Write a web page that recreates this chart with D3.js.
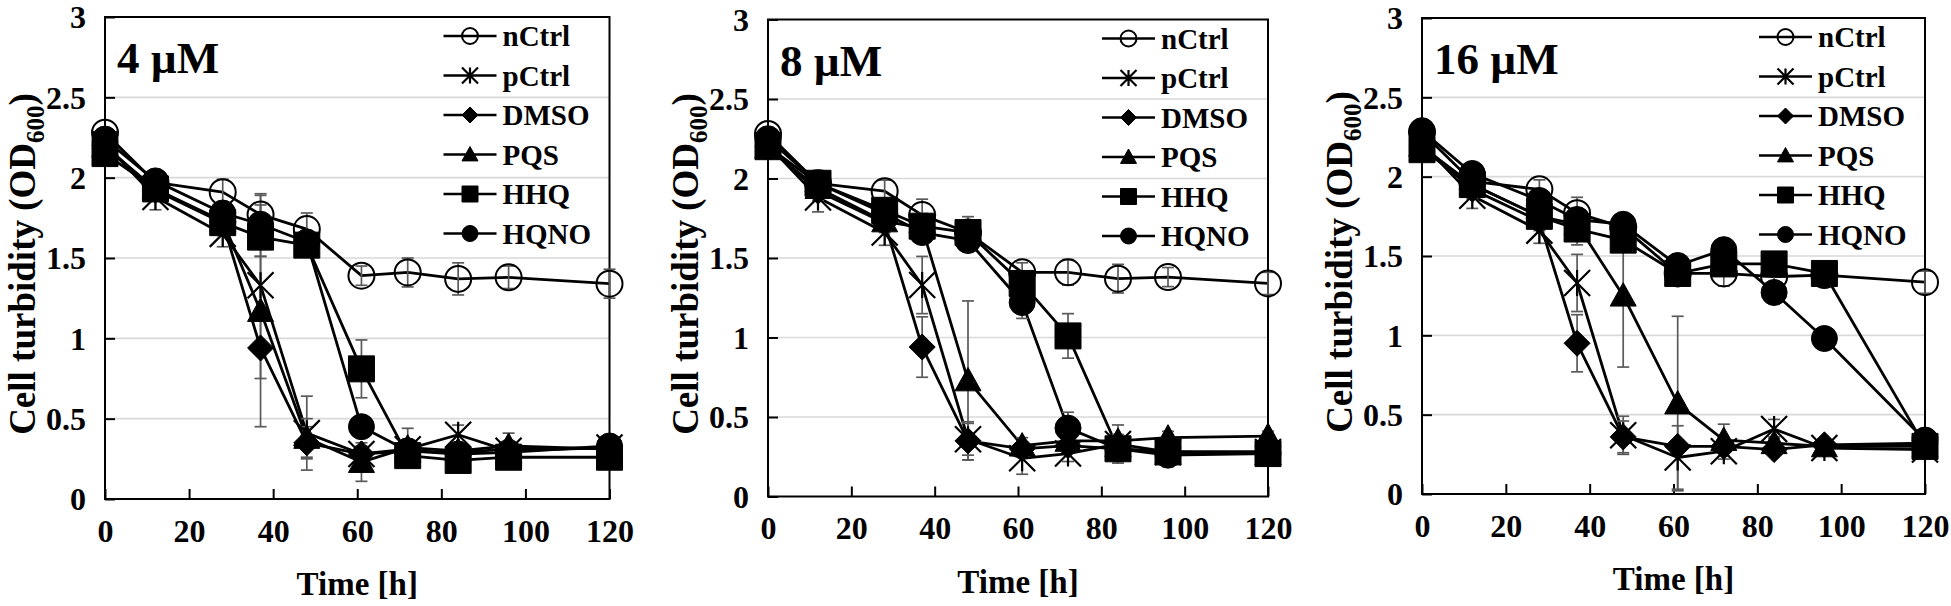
<!DOCTYPE html>
<html><head><meta charset="utf-8">
<script src="https://cdn.jsdelivr.net/npm/d3@7/dist/d3.min.js"></script>
<style>
html,body{margin:0;padding:0;background:#fff;}
svg{display:block;font-family:"Liberation Serif","Times New Roman",serif;font-weight:bold;}
text{font-family:"Liberation Serif","Times New Roman",serif;font-weight:bold;}
</style></head>
<body>
<svg id="chart" width="1951" height="606"></svg>
<script>
// ---- data ----
const times = [0, 12, 28, 37, 48, 61, 72, 84, 96, 120];
const seriesNames = ["nCtrl", "pCtrl", "DMSO", "PQS", "HHQ", "HQNO"];
const panelLabels = ["4 µM", "8 µM", "16 µM"];
const xTicks = [0, 20, 40, 60, 80, 100, 120];
const yTicks = [0, 0.5, 1, 1.5, 2, 2.5, 3];
const yTickLabels = ["0", "0.5", "1", "1.5", "2", "2.5", "3"];

// 4 µM
const c4_nCtrl = [2.28, 1.97, 1.91, 1.77, 1.68, 1.39, 1.41, 1.37, 1.38, 1.34];
const c4_pCtrl = [2.21, 1.88, 1.65, 1.33, 0.41, 0.28, 0.31, 0.40, 0.30, 0.32];
const c4_DMSO  = [2.20, 1.92, 1.72, 0.94, 0.35, 0.28, 0.30, 0.29, 0.31, 0.32];
const c4_PQS   = [2.19, 1.93, 1.73, 1.17, 0.38, 0.23, 0.32, 0.30, 0.33, 0.31];
const c4_HHQ   = [2.15, 1.93, 1.72, 1.63, 1.58, 0.81, 0.27, 0.24, 0.26, 0.26];
const c4_HQNO  = [2.24, 1.98, 1.78, 1.71, 1.60, 0.45, 0.30, 0.28, 0.29, 0.33];
const e4_nCtrl = [0.03, 0.05, 0.08, 0.13, 0.10, 0.06, 0.09, 0.10, 0.07, 0.09];
const e4_pCtrl = [0.03, 0.08, 0.08, 0.18, 0.23, 0.05, 0.05, 0.06, 0.04, 0.03];
const e4_DMSO  = [0.03, 0.06, 0.06, 0.19, 0.10, 0.04, 0.04, 0.03, 0.03, 0.03];
const e4_PQS   = [0.03, 0.05, 0.06, 0.72, 0.12, 0.12, 0.12, 0.04, 0.08, 0.03];
const e4_HHQ   = [0.03, 0.05, 0.08, 0.12, 0.05, 0.18, 0.03, 0.03, 0.03, 0.03];
const e4_HQNO  = [0.03, 0.04, 0.05, 0.12, 0.05, 0.05, 0.05, 0.03, 0.03, 0.03];

// 8 µM
const c8_nCtrl = [2.28, 1.97, 1.92, 1.77, 1.66, 1.41, 1.41, 1.37, 1.38, 1.34];
const c8_pCtrl = [2.21, 1.88, 1.66, 1.33, 0.36, 0.24, 0.27, 0.33, 0.28, 0.28];
const c8_DMSO  = [2.20, 1.92, 1.72, 0.94, 0.35, 0.30, 0.32, 0.30, 0.28, 0.28];
const c8_PQS   = [2.19, 1.94, 1.73, 1.69, 0.73, 0.32, 0.35, 0.35, 0.37, 0.38];
const c8_HHQ   = [2.20, 1.97, 1.80, 1.70, 1.66, 1.34, 1.01, 0.30, 0.28, 0.27];
const c8_HQNO  = [2.25, 1.97, 1.78, 1.66, 1.61, 1.22, 0.43, 0.30, 0.26, 0.27];
const e8_nCtrl = [0.03, 0.05, 0.07, 0.10, 0.10, 0.06, 0.08, 0.09, 0.06, 0.07];
const e8_pCtrl = [0.03, 0.09, 0.08, 0.18, 0.10, 0.10, 0.05, 0.12, 0.04, 0.03];
const e8_DMSO  = [0.03, 0.06, 0.06, 0.19, 0.12, 0.04, 0.04, 0.03, 0.03, 0.03];
const e8_PQS   = [0.03, 0.05, 0.06, 0.08, 0.50, 0.05, 0.05, 0.04, 0.04, 0.03];
const e8_HHQ   = [0.03, 0.08, 0.06, 0.08, 0.08, 0.06, 0.14, 0.03, 0.03, 0.03];
const e8_HQNO  = [0.03, 0.04, 0.05, 0.06, 0.05, 0.10, 0.10, 0.03, 0.03, 0.03];

// 16 µM
const c16_nCtrl = [2.28, 1.97, 1.92, 1.77, 1.68, 1.39, 1.39, 1.37, 1.38, 1.335];
const c16_pCtrl = [2.21, 1.88, 1.66, 1.33, 0.37, 0.23, 0.27, 0.41, 0.29, 0.28];
const c16_DMSO  = [2.20, 1.92, 1.72, 0.95, 0.36, 0.30, 0.30, 0.28, 0.31, 0.32];
const c16_PQS   = [2.19, 1.95, 1.75, 1.70, 1.25, 0.57, 0.34, 0.32, 0.30, 0.30];
const c16_HHQ   = [2.17, 1.95, 1.75, 1.67, 1.60, 1.39, 1.45, 1.45, 1.39, 0.30];
const c16_HQNO  = [2.29, 2.02, 1.85, 1.73, 1.70, 1.44, 1.54, 1.27, 0.98, 0.34];
const e16_nCtrl = [0.03, 0.05, 0.06, 0.10, 0.08, 0.06, 0.08, 0.09, 0.06, 0.07];
const e16_pCtrl = [0.03, 0.08, 0.08, 0.18, 0.12, 0.20, 0.05, 0.06, 0.04, 0.03];
const e16_DMSO  = [0.03, 0.06, 0.06, 0.18, 0.10, 0.04, 0.04, 0.03, 0.03, 0.03];
const e16_PQS   = [0.03, 0.05, 0.06, 0.10, 0.45, 0.55, 0.10, 0.04, 0.04, 0.03];
const e16_HHQ   = [0.03, 0.05, 0.08, 0.10, 0.05, 0.04, 0.05, 0.04, 0.06, 0.03];
const e16_HQNO  = [0.03, 0.04, 0.05, 0.06, 0.05, 0.05, 0.06, 0.05, 0.06, 0.03];

const panelValues = [
  [c4_nCtrl, c4_pCtrl, c4_DMSO, c4_PQS, c4_HHQ, c4_HQNO],
  [c8_nCtrl, c8_pCtrl, c8_DMSO, c8_PQS, c8_HHQ, c8_HQNO],
  [c16_nCtrl, c16_pCtrl, c16_DMSO, c16_PQS, c16_HHQ, c16_HQNO]
];
const panelErrors = [
  [e4_nCtrl, e4_pCtrl, e4_DMSO, e4_PQS, e4_HHQ, e4_HQNO],
  [e8_nCtrl, e8_pCtrl, e8_DMSO, e8_PQS, e8_HHQ, e8_HQNO],
  [e16_nCtrl, e16_pCtrl, e16_DMSO, e16_PQS, e16_HHQ, e16_HQNO]
];

// ---- layout ----
const panels = [
  {left: 105, right: 609.5, top: 17, bottom: 499},
  {left: 768, right: 1268, top: 19.5, bottom: 496.5},
  {left: 1422, right: 1925, top: 18, bottom: 494}
];
const markerShapes = ["openCircle", "star", "diamond", "triangle", "square", "circle"];
const FONT = '"Liberation Serif","Times New Roman",serif';

function markerPath(shape, s) {
  const h = s / 2;
  switch (shape) {
    case "square": return `M${-h},${-h}H${h}V${h}H${-h}Z`;
    case "diamond": return `M0,${-h}L${h},0L0,${h}L${-h},0Z`;
    case "triangle": return `M0,${-h}L${h},${h*0.8}L${-h},${h*0.8}Z`;
    case "star": return `M${-h},${-h}L${h},${h}M${-h},${h}L${h},${-h}M0,${-h}V${h}`;
    default: { const p = d3.path(); p.arc(0, 0, h, 0, 2*Math.PI); p.closePath(); return p.toString(); }
  }
}
function drawMarker(g, shape, x, y, s) {
  const fillNone = shape === "openCircle" || shape === "star";
  g.append("path")
    .attr("d", markerPath(shape, s))
    .attr("transform", `translate(${x},${y})`)
    .attr("fill", fillNone ? "none" : "#000")
    .attr("stroke", "#000")
    .attr("stroke-width", shape === "star" ? 2.2 : (shape === "openCircle" ? 2 : 1));
}

const svg = d3.select("#chart");

panels.forEach((P, pi) => {
  const x = d3.scaleLinear().domain([0, 120]).range([P.left, P.right]);
  const y = d3.scaleLinear().domain([0, 3]).range([P.bottom, P.top]);
  const g = svg.append("g");

  // gridlines
  g.append("g").selectAll("line").data(yTicks.filter(v => v > 0 && v < 3)).join("line")
    .attr("x1", P.left).attr("x2", P.right)
    .attr("y1", d => y(d)).attr("y2", d => y(d))
    .attr("stroke", "#d9d9d9").attr("stroke-width", 1.6);

  // axes via d3 axis (inward ticks)
  const yAxis = d3.axisLeft(y).tickValues(yTicks).tickSize(-10).tickPadding(19)
    .tickFormat((d, i) => yTickLabels[i]);
  const ya = g.append("g").attr("transform", `translate(${P.left},0)`).call(yAxis);
  const xAxis = d3.axisBottom(x).tickValues(xTicks).tickSize(-10).tickPadding(20);
  const xa = g.append("g").attr("transform", `translate(0,${P.bottom})`).call(xAxis);
  [ya, xa].forEach(a => {
    a.attr("font-family", FONT);
    a.select(".domain").remove();
    a.selectAll(".tick line").attr("stroke", "#000").attr("stroke-width", 2);
    a.selectAll(".tick text").attr("fill", "#000")
      .style("font-family", FONT)
      .style("font-weight", "bold").style("font-size", "32px");
  });
  ya.selectAll(".tick text").attr("dy", "0.34em");
  xa.selectAll(".tick text").attr("dy", "0.71em");

  // plot box
  g.append("rect").attr("x", P.left).attr("y", P.top)
    .attr("width", P.right - P.left).attr("height", P.bottom - P.top)
    .attr("fill", "none").attr("stroke", "#000").attr("stroke-width", 2);

  const vals = panelValues[pi], errs = panelErrors[pi];

  // series lines
  const line = d3.line().x((d, i) => x(times[i])).y(d => y(d));
  vals.forEach(v => {
    g.append("path").attr("d", line(v)).attr("fill", "none")
      .attr("stroke", "#000").attr("stroke-width", 2.8).attr("stroke-linejoin", "round");
  });

  // error bars
  vals.forEach((v, si) => {
    const eg = g.append("g");
    v.forEach((val, i) => {
      const e = errs[si][i];
      const cx = x(times[i]);
      const y1 = y(Math.max(0, val - e)), y2 = y(val + e);
      eg.append("line").attr("x1", cx).attr("x2", cx).attr("y1", y1).attr("y2", y2)
        .attr("stroke", "#5a5a5a").attr("stroke-width", 1.7);
      [y1, y2].forEach(yy => eg.append("line").attr("x1", cx - 6).attr("x2", cx + 6)
        .attr("y1", yy).attr("y2", yy).attr("stroke", "#5a5a5a").attr("stroke-width", 1.7));
    });
  });
  // markers
  vals.forEach((v, si) => {
    const mg = g.append("g");
    v.forEach((val, i) => drawMarker(mg, markerShapes[si], x(times[i]), y(val), 26));
  });

  // panel label
  g.append("text").attr("x", P.left + 12).attr("y", P.top + 56)
    .style("font-family", FONT).style("font-weight", "bold")
    .style("font-size", "45px").text(panelLabels[pi]);

  // legend
  const lg = g.append("g");
  seriesNames.forEach((name, si) => {
    const ly = P.top + 19 + si * 39.5;
    lg.append("line").attr("x1", P.right - 166).attr("x2", P.right - 113)
      .attr("y1", ly).attr("y2", ly).attr("stroke", "#000").attr("stroke-width", 2.6);
    drawMarker(lg, markerShapes[si], P.right - 139.5, ly, 16);
    lg.append("text").attr("x", P.right - 107).attr("y", ly).attr("dy", "0.35em")
      .style("font-family", FONT).style("font-weight", "bold")
      .style("font-size", "29px").text(name);
  });

  // axis titles
  g.append("text").attr("x", (P.left + P.right) / 2).attr("y", P.bottom + 96)
    .attr("text-anchor", "middle")
    .style("font-family", FONT).style("font-weight", "bold")
    .style("font-size", "33px").text("Time [h]");
  const yt = g.append("text")
    .attr("transform", `translate(${P.left - 70},${(P.top + P.bottom) / 2 + 6}) rotate(-90)`)
    .attr("text-anchor", "middle")
    .style("font-family", FONT).style("font-weight", "bold")
    .style("font-size", "37px");
  yt.append("tspan").text("Cell turbidity (OD");
  yt.append("tspan").attr("dy", 9).style("font-size", "25px").text("600");
  yt.append("tspan").attr("dy", -9).text(")");
});
</script>
</body></html>
